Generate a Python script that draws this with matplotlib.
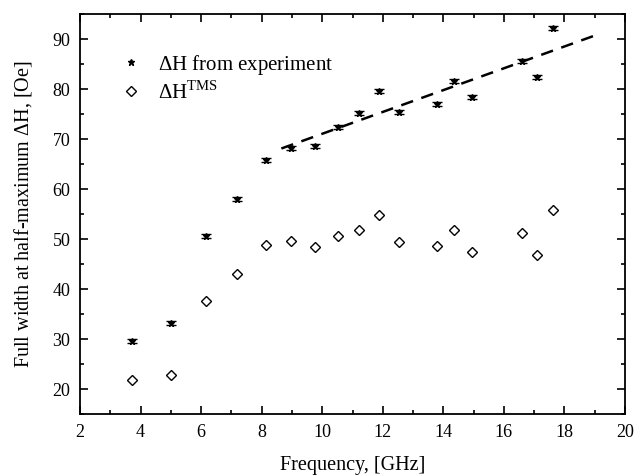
import matplotlib.pyplot as plt
from matplotlib.ticker import MultipleLocator

plt.rcParams['font.family'] = ['Liberation Serif', 'DejaVu Serif']
plt.rcParams['mathtext.fontset'] = 'custom'
plt.rcParams['mathtext.rm'] = 'Liberation Serif'

# frequencies, GHz
freq = [3.73, 5.01, 6.17, 7.17, 8.13, 8.97, 9.77, 10.51, 11.21, 11.89,
        12.53, 13.78, 14.36, 14.96, 16.61, 17.11, 17.63]
# measured linewidth, Oe
dh_exp = [29.6, 33.3, 50.7, 58.0, 65.9, 68.2, 68.7, 72.4, 75.2, 79.6,
          75.5, 77.1, 81.7, 78.4, 85.7, 82.4, 92.3]
dh_err = [0.4] * len(freq)
# TMS linewidth, Oe
dh_tms = [21.8, 22.8, 37.7, 43.0, 48.9, 49.7, 48.4, 50.6, 51.9, 54.9,
          49.5, 48.6, 51.9, 47.4, 51.3, 46.9, 55.8]
# linear fit end points
fit_x = [8.65, 19.05]
fit_y = [68.1, 90.8]

fig = plt.figure(figsize=(6.34, 4.75), dpi=100)
ax = fig.add_axes([0.1262, 0.1284, 0.8596, 0.8421])

ax.errorbar(freq, dh_exp, yerr=dh_err, fmt='none', ecolor='black',
            elinewidth=1, capsize=3.5, capthick=1)
stars, = ax.plot(freq, dh_exp, '*', color='black', markersize=5,
                 label=r'$\Delta$H from experiment')
diamonds, = ax.plot(freq, dh_tms, 'D', markersize=4.8, markerfacecolor='white',
                    markeredgecolor='black', markeredgewidth=1,
                    label=r'$\Delta$H$^{\mathrm{TMS}}$')
ax.plot(fit_x, fit_y, '--', color='black', linewidth=1.8, dashes=(5, 3.5))

ax.set_xlim(2, 20)
ax.set_ylim(15, 95)
ax.xaxis.set_major_locator(MultipleLocator(2))
ax.xaxis.set_minor_locator(MultipleLocator(1))
ax.yaxis.set_major_locator(MultipleLocator(10))
ax.yaxis.set_minor_locator(MultipleLocator(5))
ax.tick_params(which='both', direction='in', top=True, right=True, labelsize=13,
               width=1.2, pad=7)
ax.tick_params(which='major', length=6)
ax.tick_params(which='minor', length=3)
for s in ax.spines.values():
    s.set_linewidth(1.3)

ax.set_xlabel('Frequency, [GHz]', fontsize=14.5, labelpad=11)
ax.set_ylabel(r'Full width at half-maximum $\Delta$H, [Oe]', fontsize=14.5, labelpad=13)

ax.legend(handles=[stars, diamonds], loc='upper left', frameon=False, fontsize=15,
          handlelength=1.0, bbox_to_anchor=(0.04, 0.95), handletextpad=0.8,
          labelspacing=0.2)

fig.savefig('out.png', dpi=100)
